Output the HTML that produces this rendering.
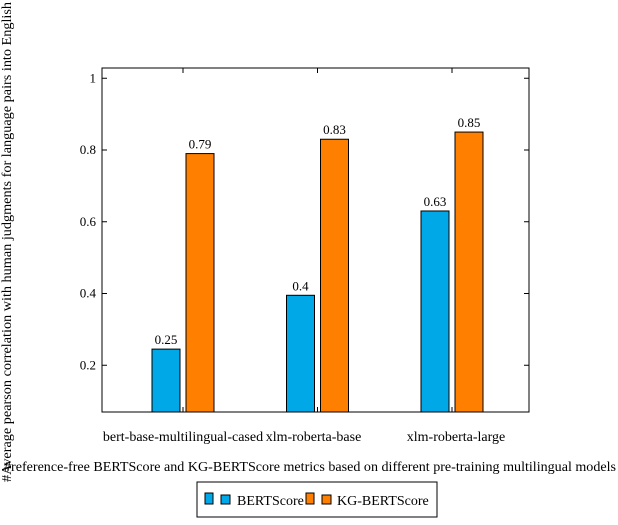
<!DOCTYPE html>
<html><head><meta charset="utf-8"><style>
body{margin:0;background:#fff;}
svg text{font-family:"Liberation Serif",serif;fill:#000;}
</style></head><body>
<svg id="chart" width="618" height="520">
<rect x="102" y="68" width="427" height="344" fill="none" stroke="#000" stroke-width="1"/>
<g id="bars"></g>
<text x="310" y="471" font-size="14" text-anchor="middle" textLength="612" lengthAdjust="spacingAndGlyphs">#reference-free BERTScore and KG-BERTScore metrics based on different pre-training multilingual models</text>
<text transform="translate(11,242) rotate(-90)" font-size="14" text-anchor="middle" textLength="480" lengthAdjust="spacingAndGlyphs">#Average pearson correlation with human judgments for language pairs into English</text>
<g>
<rect x="197" y="482" width="240" height="35" fill="#fff" stroke="#000"/>
<rect x="205" y="493" width="8" height="11" fill="#00a8e8" stroke="#000"/>
<rect x="221" y="495" width="9" height="9" fill="#00a8e8" stroke="#000"/>
<text x="237" y="505" font-size="14">BERTScore</text>
<rect x="306" y="493" width="8" height="11" fill="#ff8000" stroke="#000"/>
<rect x="322" y="495" width="9" height="9" fill="#ff8000" stroke="#000"/>
<text x="337" y="505" font-size="14">KG-BERTScore</text>
</g>
</svg>
<script>
const categories=["bert-base-multilingual-cased","xlm-roberta-base","xlm-roberta-large"];
const bertValues=[0.245,0.395,0.63];
const kgValues=[0.79,0.83,0.85];
const bertLabels=["0.25","0.4","0.63"];
const kgLabels=["0.79","0.83","0.85"];
const yTicks=[0.2,0.4,0.6,0.8,1];
const yTickLabels=["0.2","0.4","0.6","0.8","1"];
const NS="http://www.w3.org/2000/svg";
const g=document.getElementById('bars');
function y(v){return 437-v*358.75;}
function xc(i){return 183+i*134.5;}
function mk(t,a){const e=document.createElementNS(NS,t);for(const k in a)e.setAttribute(k,a[k]);g.appendChild(e);return e;}
yTicks.forEach((t,i)=>{
 const l=mk('line',{x1:102,x2:107,y1:y(t),y2:y(t),stroke:'#000'});
 
 
 const l2=mk('line',{x1:524,x2:529,y1:y(t),y2:y(t),stroke:'#000'});
 
 
 const tx=mk('text',{x:96,y:y(t)+4,'font-size':13,'text-anchor':'end'});tx.textContent=yTickLabels[i];
 
 
});
const labelOffsets=[0,-4,4];
categories.forEach((c,i)=>{
 const cx=xc(i);
 const t1=mk('line',{x1:cx,x2:cx,y1:412,y2:407,stroke:'#000'});
 
 
 const t2=mk('line',{x1:cx,x2:cx,y1:68,y2:73,stroke:'#000'});
 
 
 const lb=mk('text',{x:cx+labelOffsets[i],y:441,'font-size':14,'text-anchor':'middle'});lb.textContent=c;
 
 
 [[bertValues,bertLabels,'#00a8e8',cx-31,'bert'],[kgValues,kgLabels,'#ff8000',cx+3,'kg']].forEach(s=>{
  const v=s[0][i];
  const r=mk('rect',{x:s[3],y:y(v),width:28,height:412-y(v),fill:s[2],stroke:'#000'});
  
  
  const vt=mk('text',{x:s[3]+14,y:y(v)-5,'font-size':13,'text-anchor':'middle'});vt.textContent=s[1][i];
  
  
 });
});
</script>
</body></html>
